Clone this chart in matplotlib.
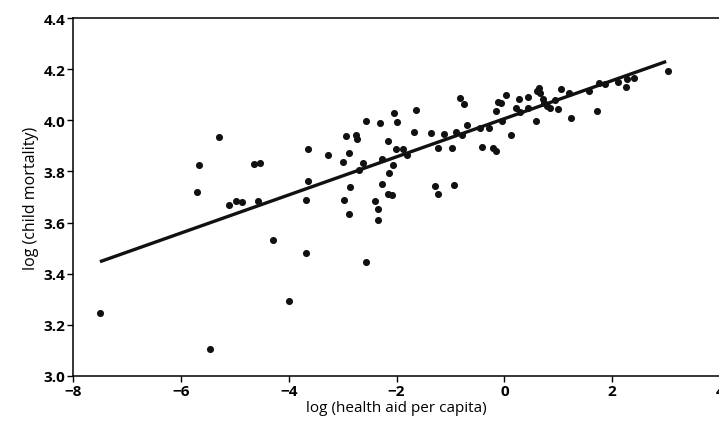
import matplotlib.pyplot as plt

# log(health aid per capita) vs log(child mortality)
aid = [-7.50, -5.67, -5.70, -5.30, -5.46, -5.11, -4.98, -4.86, -4.64, -4.54,
       -4.57, -4.29, -4.00, -3.68, -3.64, -3.65, -3.67, -3.28, -2.94, -2.75,
       -2.73, -2.89, -3.00, -2.86, -2.97, -2.88, -2.57, -2.30, -2.04, -1.99,
       -1.64, -2.16, -2.63, -2.70, -2.27, -2.01, -1.88, -1.80, -2.07, -2.14,
       -2.27, -2.15, -2.09, -2.40, -2.34, -2.35, -2.57, -1.67, -1.36, -1.12,
       -0.90, -0.79, -1.23, -0.98, -1.28, -1.24, -0.94, -0.83, -0.75, -0.70,
       -0.45, -0.28, -0.42, -0.22, -0.15, -0.16, -0.12, -0.07, -0.05, 0.12,
       0.03, 0.21, 0.29, 0.28, 0.44, 0.43, 0.59, 0.60, 0.64, 0.66,
       0.71, 0.74, 0.79, 0.84, 0.94, 0.99, 1.05, 1.19, 1.24, 1.57,
       1.71, 1.75, 1.87, 2.10, 2.26, 2.27, 2.40, 3.04]
mortality = [3.246, 3.826, 3.720, 3.936, 3.106, 3.670, 3.684, 3.680, 3.830, 3.833,
             3.684, 3.530, 3.295, 3.480, 3.886, 3.764, 3.690, 3.863, 3.937, 3.944,
             3.926, 3.873, 3.838, 3.741, 3.687, 3.635, 3.999, 3.990, 4.030, 3.992,
             4.041, 3.920, 3.832, 3.805, 3.850, 3.887, 3.887, 3.866, 3.825, 3.794,
             3.752, 3.710, 3.709, 3.685, 3.655, 3.609, 3.447, 3.955, 3.950, 3.947,
             3.953, 3.942, 3.890, 3.890, 3.742, 3.711, 3.747, 4.089, 4.062, 3.980,
             3.971, 3.970, 3.894, 3.893, 3.880, 4.038, 4.070, 4.069, 3.998, 3.944,
             4.100, 4.047, 4.034, 4.083, 4.093, 4.050, 3.996, 4.115, 4.126, 4.108,
             4.083, 4.068, 4.057, 4.049, 4.080, 4.043, 4.122, 4.107, 4.008, 4.116,
             4.035, 4.147, 4.140, 4.151, 4.132, 4.160, 4.164, 4.192]

# fitted line end points
fit_x = [-7.5, 3.0]
fit_y = [3.447, 4.230]

x_ticks = [-8, -6, -4, -2, 0, 2, 4]
y_ticks = [3.0, 3.2, 3.4, 3.6, 3.8, 4.0, 4.2, 4.4]

plt.rcParams['font.family'] = ['Open Sans', 'DejaVu Sans']

fig = plt.figure(figsize=(7.19, 4.31), dpi=100)
ax = fig.add_axes([0.1015, 0.1253, 0.9, 0.8306])

ax.scatter(aid, mortality, s=26, color='#111111', linewidths=0, zorder=3)
ax.plot(fit_x, fit_y, color='#111111', linewidth=2.4, solid_capstyle='butt', zorder=2)

ax.set_xlim(-8, 4)
ax.set_ylim(3.0, 4.4)
ax.set_xticks(x_ticks)
ax.set_xticklabels(['\u22128', '\u22126', '\u22124', '\u22122', '0', '2', '4'])
ax.set_yticks(y_ticks)
ax.set_yticklabels([f'{v:.1f}' for v in y_ticks])
ax.tick_params(direction='out', length=4, width=1, labelsize=11, pad=1.5)
for lab in ax.get_xticklabels() + ax.get_yticklabels():
    lab.set_fontweight('bold')

for side in ['left', 'bottom', 'top']:
    ax.spines[side].set_linewidth(1.1)
ax.spines['right'].set_visible(False)

ax.set_xlabel('log (health aid per capita)', fontsize=11, labelpad=2)
ax.set_ylabel('log (child mortality)', fontsize=11.5, labelpad=3)

fig.savefig('out.png', dpi=100)
